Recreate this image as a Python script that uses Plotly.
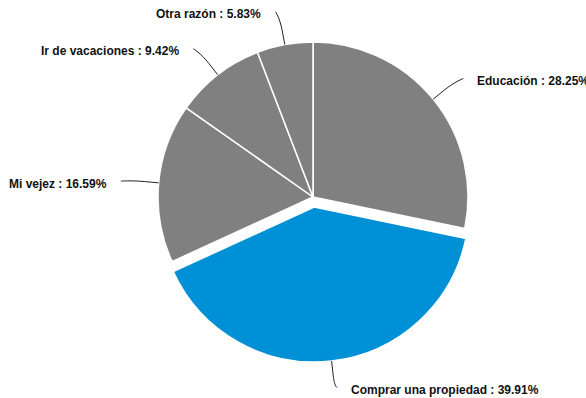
import math
import plotly.graph_objects as go

# Reasons for saving (share of respondents, %)
labels = ["Educación", "Comprar una propiedad", "Mi vejez", "Ir de vacaciones", "Otra razón"]
values = [28.25, 39.91, 16.59, 9.42, 5.83]
pulls = [0, 0.065, 0, 0, 0]
colors = ["#808080", "#0090d5", "#808080", "#808080", "#808080"]

W, H = 586, 398
CX, CY, R = 313, 197, 155          # pie centre and radius (px)
LABEL_R = 190                      # radius where label connectors start
BREAK_GAP = 14                     # straight radial part of connector

max_pull = max(pulls)
half = R * (1 + max_pull)
dom_x = [(CX - half) / W, (CX + half) / W]
dom_y = [1 - (CY + half) / H, 1 - (CY - half) / H]


def px(x):
    return x / W


def py(y):
    return 1 - y / H


fig = go.Figure(go.Pie(
    labels=labels,
    values=values,
    pull=pulls,
    sort=False,
    direction="clockwise",
    rotation=0,
    textinfo="none",
    hoverinfo="label+percent",
    marker=dict(colors=colors, line=dict(color="#ffffff", width=1.5)),
    domain=dict(x=dom_x, y=dom_y),
))

annotations = []
shapes = []
total = sum(values)
start = 0.0
for lab, val, pull in zip(labels, values, pulls):
    frac = val / total
    mid = (start + frac / 2) * 2 * math.pi
    start += frac
    dx, dy = math.sin(mid), -math.cos(mid)
    r_edge = R * (1 + pull)
    base = (CX + r_edge * dx, CY + r_edge * dy)
    brk = (CX + (r_edge + BREAK_GAP) * dx, CY + (r_edge + BREAK_GAP) * dy)
    side = 1 if dx >= 0 else -1
    tail = (CX + LABEL_R * dx + side * 3, CY + LABEL_R * dy + 1.5)
    c2 = (2 * brk[0] - base[0], 2 * brk[1] - base[1])
    path = (f"M {px(tail[0])},{py(tail[1])} "
            f"C {px(tail[0])},{py(tail[1])} {px(c2[0])},{py(c2[1])} {px(brk[0])},{py(brk[1])} "
            f"L {px(base[0])},{py(base[1])}")
    shapes.append(dict(type="path", path=path, xref="paper", yref="paper",
                       line=dict(color="#222222", width=1)))
    annotations.append(dict(
        text=f"<b>{lab} : {val:.2f}%</b>",
        x=px(tail[0] + side * 12), y=py(tail[1] + 2.5),
        xref="paper", yref="paper",
        xanchor="left" if side > 0 else "right", yanchor="middle",
        showarrow=False,
        font=dict(family="Liberation Sans, Arial, sans-serif", size=12, color="#111111"),
    ))

fig.update_layout(
    width=W, height=H,
    margin=dict(l=0, r=0, t=0, b=0),
    paper_bgcolor="#ffffff",
    plot_bgcolor="#ffffff",
    showlegend=False,
    shapes=shapes,
    annotations=annotations,
)

fig.write_html("out.html")
